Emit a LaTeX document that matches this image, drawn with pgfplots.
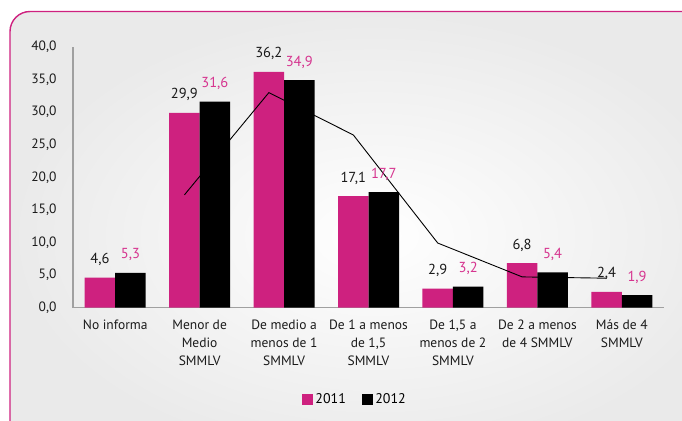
\documentclass[border=0pt]{standalone}
\usepackage{pgfplots}
\pgfplotsset{compat=1.18}
\usepackage{fontspec}
\setmainfont{PT Sans}
\definecolor{mag}{RGB}{206,33,127}
\definecolor{magtxt}{RGB}{214,52,143}
\definecolor{axgray}{RGB}{160,160,160}
\definecolor{bggray}{RGB}{234,234,234}
\definecolor{txt}{RGB}{26,26,26}
\begin{document}
\begin{tikzpicture}
\path[use as bounding box] (0,0) rectangle (682pt,-420pt);
\begin{scope}
\clip (0,0) rectangle (682pt,-420pt);
\shade[rounded corners=20pt, inner color=white, outer color=bggray] (10pt,-11.5pt) rectangle (740pt,-460pt);
\draw[mag, line width=1.4pt, rounded corners=20pt] (10pt,-11.5pt) rectangle (740pt,-460pt);
\end{scope}
\begin{axis}[
  at={(73pt,-307.5pt)}, anchor=south west,
  scale only axis, width=591pt, height=260.5pt,
  xmin=-0.5, xmax=6.5, ymin=0, ymax=40,
  ytick={0,5,...,40},
  xtick={0,...,6},
  xticklabels={{No informa},{Menor de\\Medio\\SMMLV},{De medio a\\menos de 1\\SMMLV},{De 1 a menos\\de 1,5\\SMMLV},{De 1,5 a\\menos de 2\\SMMLV},{De 2 a menos\\de 4 SMMLV},{Más de 4\\SMMLV}},
  axis x line*=bottom, axis y line*=left,
  axis line style={axgray, line width=1.5pt},
  major tick length=0pt,
  font=\fontsize{13.5}{18}\selectfont,
  tick label style={txt},
  xticklabel style={align=center, yshift=-9pt},
  yticklabel style={xshift=-13pt},
  /pgf/number format/.cd, fixed, fixed zerofill, precision=1, use comma, assume math mode=true,
  /pgfplots/.cd,
  clip=false,
  legend style={at={(0.477,-0.351)}, anchor=center, draw=none, fill=none, legend columns=2, font=\fontsize{14}{15}\selectfont, /tikz/every even column/.append style={column sep=14pt}, /tikz/every odd column/.append style={column sep=1pt}},
  legend cell align=left,
]
\addplot[ybar, bar width=30.5pt, bar shift=-15.25pt, fill=mag, draw=none,
  nodes near coords, every node near coord/.append style={txt, font=\fontsize{14.5}{16}\selectfont, anchor=center, xshift=-15.25pt, yshift=18pt}, forget plot]
  coordinates {(0,4.6) (1,29.9) (2,36.2) (3,17.1) (4,2.9) (5,6.8) (6,2.4)};
\addplot[ybar, bar width=30.5pt, bar shift=15.25pt, fill=black, draw=none,
  nodes near coords, every node near coord/.append style={magtxt, font=\fontsize{14.5}{16}\selectfont, anchor=center, xshift=15.25pt, yshift=18pt}, forget plot]
  coordinates {(0,5.3) (1,31.6) (2,34.9) (3,17.7) (4,3.2) (5,5.4) (6,1.9)};
\addplot[black, line width=0.9pt, mark=none, forget plot]
  coordinates {(0.82,17.3) (1.82,33.0) (2.82,26.5) (3.82,9.9) (4.82,4.7) (5.82,4.5)};
\addlegendimage{legend image code/.code={\fill[mag] (0pt,-5pt) rectangle (10pt,5pt);}}
\addlegendentry{2011}
\addlegendimage{legend image code/.code={\fill[black] (0pt,-5pt) rectangle (10pt,5pt);}}
\addlegendentry{2012}
\end{axis}
\end{tikzpicture}
\end{document}
